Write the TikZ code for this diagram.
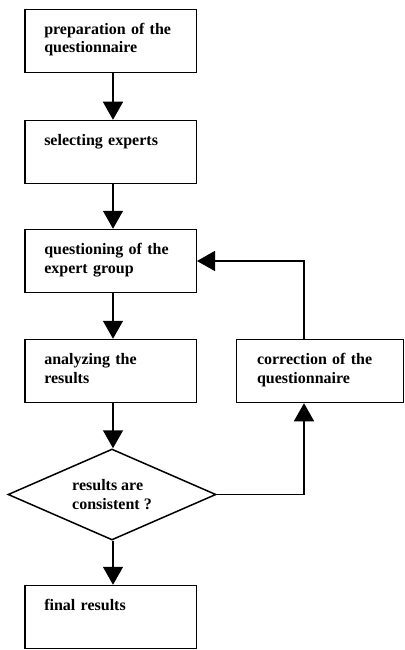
\documentclass[tikz,border=0pt]{standalone}
\usepackage{fontspec}
\setmainfont{Liberation Serif}
\usetikzlibrary{shapes.geometric,arrows.meta}
\begin{document}
\begin{tikzpicture}[x=1pt,y=-1pt,
  lbl/.style={font=\fontsize{16}{18.5}\selectfont\bfseries},
  box/.style={lbl,draw,line width=1.5pt,rectangle,anchor=north west,
    minimum width=171.5pt,inner xsep=19.5pt,inner ysep=0pt,text width=132.5pt,
    align=left,text height=25pt,text depth=38pt},
  dec/.style={lbl,draw,line width=1.5pt,diamond,shape aspect=2.3,
    minimum width=208pt,minimum height=91pt,inner sep=0pt,align=left},
  arr/.style={line width=1.5pt,-{Triangle[width=20pt,length=18pt]}}]
\useasboundingbox (0,0) rectangle (404,650);
\coordinate (ax) at (113,0);
\coordinate (lx) at (304,0);
\node[box] (p) at (24,8.75) {preparation of the\\questionnaire};
\node[box] (s) at (24,119.75) {selecting experts};
\node[box] (q) at (24,228.75) {questioning of the\\expert group};
\node[box] (a) at (24,338.75) {analyzing the\\results};
\node[box,minimum width=167pt,inner xsep=20.5pt,text width=126pt] (c) at (235.75,338.75) {correction of the\\questionnaire};
\node[dec] (d) at (112,494.5) {results are\\consistent ?};
\node[box] (f) at (24,584.75) {final results};
\draw[arr] (p.south -| ax) -- (s.north -| ax);
\draw[arr] (s.south -| ax) -- (q.north -| ax);
\draw[arr] (q.south -| ax) -- (a.north -| ax);
\draw[arr] (a.south -| ax) -- (d.north -| ax);
\draw[arr] (d.south -| ax) -- (f.north -| ax);
\draw[arr] (d.east) -| (c.south -| lx);
\draw[arr] (c.north -| lx) |- (q.east);
\end{tikzpicture}
\end{document}
